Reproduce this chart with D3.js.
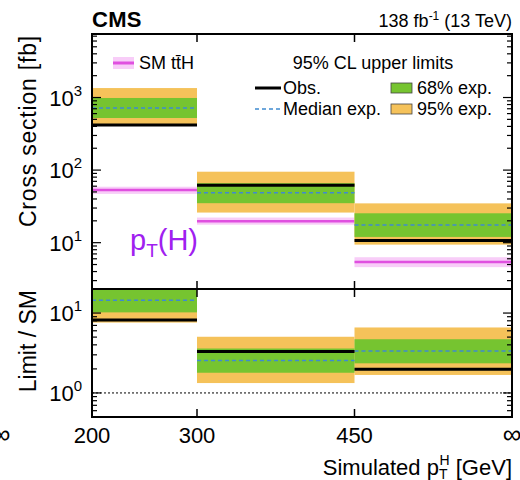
<!DOCTYPE html>
<html>
<head>
<meta charset="utf-8">
<script src="https://cdn.jsdelivr.net/npm/d3@7"></script>
<style>
  body { margin: 0; background: #fff; }
  text { font-family: "Liberation Sans", Arial, Helvetica, sans-serif; fill: #000; }
</style>
</head>
<body>
<svg id="chart" width="520" height="480"></svg>
<script>
// bin edges in simulated pT(H) [GeV]; the last edge stands for infinity
const binEdges = [200, 300, 450, 600];
const binLabels = ["200", "300", "450", "\u221E"];

// upper panel: cross section limits [fb]
const obsXs  = [418, 62, 10.7];
const medXs  = [717, 48.7, 17.5];
const lo68Xs = [522, 35, 12];
const hi68Xs = [985, 66, 25.4];
const lo95Xs = [418, 26, 9.4];
const hi95Xs = [1350, 95, 34.8];
const smXs   = [53, 19.8, 5.4];
const smLoXs = [47, 17.7, 4.6];
const smHiXs = [59, 22.2, 6.3];

// lower panel: limit / SM
const obsR  = [8.2, 3.3, 1.98];
const medR  = [14.5, 2.54, 3.35];
const lo68R = [10.2, 1.79, 2.35];
const hi68R = [25, 3.6, 4.7];
const lo95R = [7.6, 1.33, 1.68];
const hi95R = [35, 5.05, 6.6];

const green = "#76c430", yellow = "#f5c25a", blue = "#3f8ad0";
const smLine = "#e050e0", smBand = "#f8cdf8";

const svg = d3.select("#chart");
const L = 92, R = 512, topT = 34, topB = 289, botT = 289, botB = 417;

const x = d3.scaleLinear().domain([200, 600]).range([L, R]);
const yTop = d3.scaleLog().domain([2.3, 7500]).range([topB, topT]);
const yBot = d3.scaleLog().domain([0.5, 20]).range([botB, botT]);

const bins = binEdges.slice(0, -1).map((lo, i) => ({lo, hi: binEdges[i + 1], i}));

// clip paths for the two panels
const defs = svg.append("defs");
defs.append("clipPath").attr("id", "clipTop").append("rect")
  .attr("x", L).attr("y", topT).attr("width", R - L).attr("height", topB - topT);
defs.append("clipPath").attr("id", "clipBot").append("rect")
  .attr("x", L).attr("y", botT).attr("width", R - L).attr("height", botB - botT);

function drawBands(g, y, lo95, hi95, lo68, hi68, med, obs) {
  g.selectAll(".b95").data(bins).enter().append("rect")
    .attr("x", d => x(d.lo)).attr("width", d => x(d.hi) - x(d.lo))
    .attr("y", d => y(hi95[d.i])).attr("height", d => y(lo95[d.i]) - y(hi95[d.i]))
    .attr("fill", yellow);
  g.selectAll(".b68").data(bins).enter().append("rect")
    .attr("x", d => x(d.lo)).attr("width", d => x(d.hi) - x(d.lo))
    .attr("y", d => y(hi68[d.i])).attr("height", d => y(lo68[d.i]) - y(hi68[d.i]))
    .attr("fill", green);
  g.selectAll(".med").data(bins).enter().append("line")
    .attr("x1", d => x(d.lo)).attr("x2", d => x(d.hi))
    .attr("y1", d => y(med[d.i])).attr("y2", d => y(med[d.i]))
    .attr("stroke", blue).attr("stroke-width", 1.5).attr("stroke-dasharray", "4,3");
  g.selectAll(".obs").data(bins).enter().append("line")
    .attr("x1", d => x(d.lo)).attr("x2", d => x(d.hi))
    .attr("y1", d => y(obs[d.i])).attr("y2", d => y(obs[d.i]))
    .attr("stroke", "#000").attr("stroke-width", 3);
}

// upper panel
const gTop = svg.append("g").attr("clip-path", "url(#clipTop)");
gTop.selectAll(".smb").data(bins).enter().append("rect")
  .attr("x", d => x(d.lo)).attr("width", d => x(d.hi) - x(d.lo))
  .attr("y", d => yTop(smHiXs[d.i])).attr("height", d => yTop(smLoXs[d.i]) - yTop(smHiXs[d.i]))
  .attr("fill", smBand);
gTop.selectAll(".sml").data(bins).enter().append("line")
  .attr("x1", d => x(d.lo)).attr("x2", d => x(d.hi))
  .attr("y1", d => yTop(smXs[d.i])).attr("y2", d => yTop(smXs[d.i]))
  .attr("stroke", smLine).attr("stroke-width", 2.5);
drawBands(gTop, yTop, lo95Xs, hi95Xs, lo68Xs, hi68Xs, medXs, obsXs);

// lower panel
const gBot = svg.append("g").attr("clip-path", "url(#clipBot)");
gBot.append("line")
  .attr("x1", L).attr("x2", R).attr("y1", yBot(1)).attr("y2", yBot(1))
  .attr("stroke", "#000").attr("stroke-width", 1).attr("stroke-dasharray", "2,2");
drawBands(gBot, yBot, lo95R, hi95R, lo68R, hi68R, medR, obsR);

// log axes with minor ticks on both sides
function logAxis(y) {
  const ticks = y.ticks();
  const isMajor = v => Math.abs(Math.log10(v) - Math.round(Math.log10(v))) < 1e-6;
  const g = svg.append("g");
  ticks.forEach(v => {
    const len = isMajor(v) ? 9 : 5;
    const yy = y(v);
    g.append("line").attr("x1", L).attr("x2", L + len).attr("y1", yy).attr("y2", yy)
      .attr("stroke", "#000").attr("stroke-width", 1.2);
    g.append("line").attr("x1", R - len).attr("x2", R).attr("y1", yy).attr("y2", yy)
      .attr("stroke", "#000").attr("stroke-width", 1.2);
    if (isMajor(v)) {
      const t = g.append("text").attr("x", 82).attr("y", yy + 8)
        .attr("text-anchor", "end").attr("font-size", 22);
      t.append("tspan").text("10");
      t.append("tspan").attr("dy", -10).attr("font-size", 15).text(Math.round(Math.log10(v)));
    }
  });
}
logAxis(yTop);
logAxis(yBot);

// x ticks at inner bin edges, on both edges of both panels
[[topT, topB], [botT, botB]].forEach(([t, b]) => {
  binEdges.slice(1, -1).forEach(v => {
    svg.append("line").attr("x1", x(v)).attr("x2", x(v)).attr("y1", t).attr("y2", t + 8)
      .attr("stroke", "#000").attr("stroke-width", 1.5);
    svg.append("line").attr("x1", x(v)).attr("x2", x(v)).attr("y1", b - 8).attr("y2", b)
      .attr("stroke", "#000").attr("stroke-width", 1.5);
  });
});

// frames
svg.append("rect").attr("x", L).attr("y", topT).attr("width", R - L).attr("height", topB - topT)
  .attr("fill", "none").attr("stroke", "#000").attr("stroke-width", 2);
svg.append("rect").attr("x", L).attr("y", botT).attr("width", R - L).attr("height", botB - botT)
  .attr("fill", "none").attr("stroke", "#000").attr("stroke-width", 2);

// x tick labels
svg.selectAll(".xl").data(binEdges).enter().append("text")
  .attr("x", d => x(d)).attr("y", 443).attr("text-anchor", "middle")
  .attr("font-size", d => d === 600 ? 26 : 22).text((d, i) => binLabels[i]);
// cut-off infinity sign at the left edge
svg.append("text").attr("x", 1).attr("y", 443).attr("text-anchor", "middle")
  .attr("font-size", 26).text("\u221E");

// axis titles
const xt = svg.append("text").attr("x", R).attr("y", 475).attr("text-anchor", "end").attr("font-size", 22);
xt.append("tspan").text("Simulated p");
xt.append("tspan").attr("font-size", 14).attr("dy", 4).text("T");
xt.append("tspan").attr("font-size", 14).attr("dx", -8).attr("dy", -14).text("H");
xt.append("tspan").attr("dy", 10).text(" [GeV]");

svg.append("text").attr("transform", `translate(36,${topT + 1}) rotate(-90)`)
  .attr("text-anchor", "end").attr("font-size", 23).attr("letter-spacing", 0.8)
  .text("Cross section [fb]");
svg.append("text").attr("transform", `translate(36,${botT + 1}) rotate(-90)`)
  .attr("text-anchor", "end").attr("font-size", 23)
  .text("Limit / SM");

// header
svg.append("text").attr("x", L).attr("y", 27).attr("font-size", 22).attr("font-weight", "bold")
  .attr("letter-spacing", 0.3).text("CMS");
const lumi = svg.append("text").attr("x", R).attr("y", 27).attr("text-anchor", "end").attr("font-size", 18);
lumi.append("tspan").text("138 fb");
lumi.append("tspan").attr("font-size", 12).attr("dy", -7).text("-1");
lumi.append("tspan").attr("dy", 7).text(" (13 TeV)");

// legend
svg.append("rect").attr("x", 113).attr("y", 57).attr("width", 21).attr("height", 12).attr("fill", smBand);
svg.append("line").attr("x1", 113).attr("x2", 134).attr("y1", 63).attr("y2", 63)
  .attr("stroke", smLine).attr("stroke-width", 3);
svg.append("text").attr("x", 139).attr("y", 69).attr("font-size", 18).text("SM tt\u0304H");

svg.append("text").attr("x", 373).attr("y", 69).attr("text-anchor", "middle").attr("font-size", 18)
  .text("95% CL upper limits");
svg.append("line").attr("x1", 255).attr("x2", 281).attr("y1", 88).attr("y2", 88)
  .attr("stroke", "#000").attr("stroke-width", 3);
svg.append("text").attr("x", 283).attr("y", 94).attr("font-size", 18).text("Obs.");
svg.append("line").attr("x1", 255).attr("x2", 281).attr("y1", 109).attr("y2", 109)
  .attr("stroke", blue).attr("stroke-width", 1.5).attr("stroke-dasharray", "4,3");
svg.append("text").attr("x", 283).attr("y", 115).attr("font-size", 18).text("Median exp.");
svg.append("rect").attr("x", 391).attr("y", 83).attr("width", 21).attr("height", 10)
  .attr("fill", green).attr("stroke", "#444").attr("stroke-width", 0.8);
svg.append("text").attr("x", 417).attr("y", 94).attr("font-size", 18).text("68% exp.");
svg.append("rect").attr("x", 391).attr("y", 104).attr("width", 21).attr("height", 10)
  .attr("fill", yellow).attr("stroke", "#444").attr("stroke-width", 0.8);
svg.append("text").attr("x", 417).attr("y", 115).attr("font-size", 18).text("95% exp.");

// observable label
const pt = svg.append("text").attr("x", 130).attr("y", 250).attr("font-size", 29)
  .style("fill", "#a020f0");
pt.append("tspan").text("p");
pt.append("tspan").attr("font-size", 19).attr("dy", 7).text("T");
pt.append("tspan").attr("dy", -7).text("(H)");
</script>
</body>
</html>
